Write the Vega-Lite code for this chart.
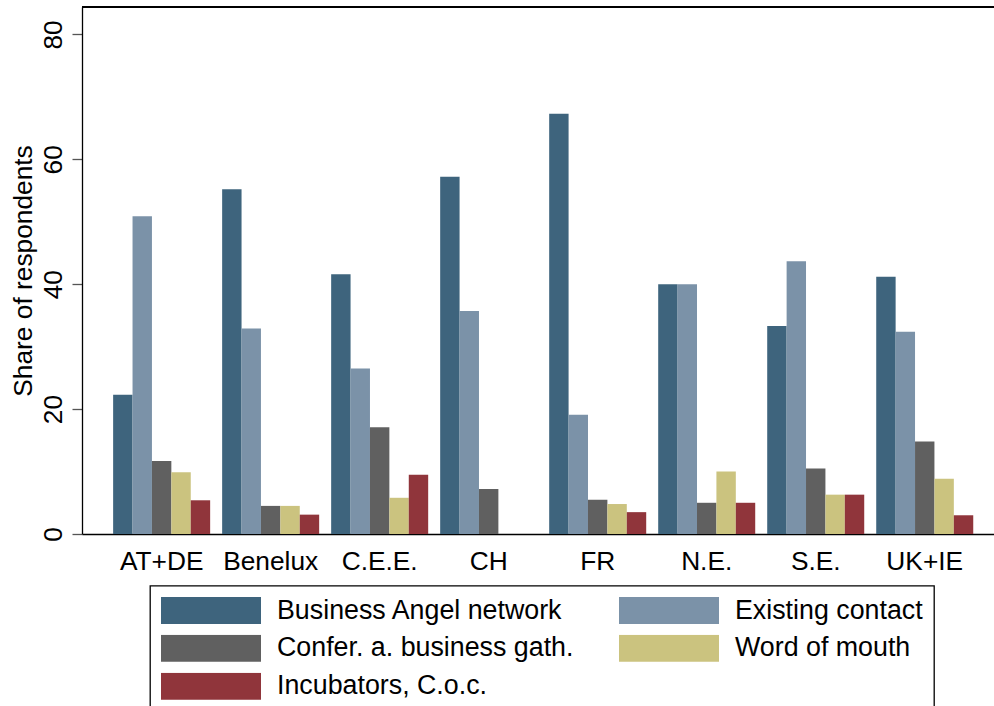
{
  "$schema": "https://vega.github.io/schema/vega-lite/v6.json",
  "autosize": "none",
  "padding": {"left": 82, "top": 7, "right": 0, "bottom": 172},
  "width": 912,
  "height": 527,
  "background": "white",
  "config": {
    "view": {"stroke": null},
    "font": "Liberation Sans",
    "axisX": {
      "grid": false,
      "ticks": false,
      "domainColor": "black",
      "domainWidth": 1.3,
      "labelAngle": 0,
      "labelPadding": 14,
      "labelFontSize": 26.3,
      "labelColor": "black",
      "labelFont": "Liberation Sans",
      "title": null
    },
    "legend": {
      "orient": "none",
      "legendX": 68,
      "legendY": 578.7,
      "title": null,
      "columns": 2,
      "direction": "horizontal",
      "columnPadding": 45,
      "rowPadding": 10,
      "padding": 11,
      "strokeColor": "black",
      "strokeWidth": 1.3,
      "fillColor": "white",
      "symbolType": "M-1,-0.27H1V0.27H-1Z",
      "symbolSize": 10000,
      "symbolStrokeWidth": 0,
      "symbolOpacity": 1,
      "clipHeight": 27,
      "labelFont": "Liberation Sans",
      "labelFontSize": 26.8,
      "labelColor": "black",
      "labelOffset": 16,
      "labelLimit": 500
    }
  },
  "data": {
    "values": [
      {"region": "AT+DE", "source": "Business Angel network", "value": 22.3},
      {"region": "AT+DE", "source": "Existing contact", "value": 50.9},
      {"region": "AT+DE", "source": "Confer. a. business gath.", "value": 11.7},
      {"region": "AT+DE", "source": "Word of mouth", "value": 9.9},
      {"region": "AT+DE", "source": "Incubators, C.o.c.", "value": 5.4},
      {"region": "Benelux", "source": "Business Angel network", "value": 55.2},
      {"region": "Benelux", "source": "Existing contact", "value": 32.9},
      {"region": "Benelux", "source": "Confer. a. business gath.", "value": 4.5},
      {"region": "Benelux", "source": "Word of mouth", "value": 4.5},
      {"region": "Benelux", "source": "Incubators, C.o.c.", "value": 3.1},
      {"region": "C.E.E.", "source": "Business Angel network", "value": 41.6},
      {"region": "C.E.E.", "source": "Existing contact", "value": 26.5},
      {"region": "C.E.E.", "source": "Confer. a. business gath.", "value": 17.1},
      {"region": "C.E.E.", "source": "Word of mouth", "value": 5.8},
      {"region": "C.E.E.", "source": "Incubators, C.o.c.", "value": 9.5},
      {"region": "CH", "source": "Business Angel network", "value": 57.2},
      {"region": "CH", "source": "Existing contact", "value": 35.7},
      {"region": "CH", "source": "Confer. a. business gath.", "value": 7.2},
      {"region": "CH", "source": "Word of mouth", "value": 0},
      {"region": "CH", "source": "Incubators, C.o.c.", "value": 0},
      {"region": "FR", "source": "Business Angel network", "value": 67.3},
      {"region": "FR", "source": "Existing contact", "value": 19.1},
      {"region": "FR", "source": "Confer. a. business gath.", "value": 5.5},
      {"region": "FR", "source": "Word of mouth", "value": 4.8},
      {"region": "FR", "source": "Incubators, C.o.c.", "value": 3.5},
      {"region": "N.E.", "source": "Business Angel network", "value": 40.0},
      {"region": "N.E.", "source": "Existing contact", "value": 40.0},
      {"region": "N.E.", "source": "Confer. a. business gath.", "value": 5.0},
      {"region": "N.E.", "source": "Word of mouth", "value": 10.0},
      {"region": "N.E.", "source": "Incubators, C.o.c.", "value": 5.0},
      {"region": "S.E.", "source": "Business Angel network", "value": 33.3},
      {"region": "S.E.", "source": "Existing contact", "value": 43.7},
      {"region": "S.E.", "source": "Confer. a. business gath.", "value": 10.5},
      {"region": "S.E.", "source": "Word of mouth", "value": 6.3},
      {"region": "S.E.", "source": "Incubators, C.o.c.", "value": 6.3},
      {"region": "UK+IE", "source": "Business Angel network", "value": 41.2},
      {"region": "UK+IE", "source": "Existing contact", "value": 32.4},
      {"region": "UK+IE", "source": "Confer. a. business gath.", "value": 14.8},
      {"region": "UK+IE", "source": "Word of mouth", "value": 8.85},
      {"region": "UK+IE", "source": "Incubators, C.o.c.", "value": 3.0}
    ]
  },
  "layer": [
    {
      "mark": {"type": "bar"},
      "encoding": {
        "x": {
          "field": "region",
          "type": "nominal",
          "sort": null,
          "scale": {"paddingInner": 0.11, "paddingOuter": 0.238, "align": 0.6},
          "axis": {"title": null}
        },
        "xOffset": {
          "field": "source",
          "type": "nominal",
          "sort": ["Business Angel network", "Existing contact", "Confer. a. business gath.", "Word of mouth", "Incubators, C.o.c."],
          "scale": {"paddingInner": 0, "paddingOuter": 0}
        },
        "y": {
          "field": "value",
          "type": "quantitative",
          "title": "Share of respondents",
          "scale": {"domain": [0, 84.4], "nice": false, "zero": true},
          "axis": {
            "values": [0, 20, 40, 60, 80],
            "grid": false,
            "domainColor": "black",
            "domainWidth": 1.3,
            "tickColor": "#555555",
            "tickSize": 10,
            "tickWidth": 1.3,
            "labelAngle": -90,
            "labelAlign": "center",
            "labelBaseline": "alphabetic",
            "labelPadding": 11,
            "labelFontSize": 26.3,
            "labelColor": "black",
            "labelFont": "Liberation Sans",
            "titleFont": "Liberation Sans",
            "titleFontSize": 26.3,
            "titleFontWeight": "normal",
            "titleColor": "black",
            "titleAngle": -90,
            "titleAlign": "center",
            "titleBaseline": "alphabetic",
            "titleX": -51,
            "titleY": 263.5
          }
        },
        "color": {
          "field": "source",
          "type": "nominal",
          "sort": ["Business Angel network", "Existing contact", "Confer. a. business gath.", "Word of mouth", "Incubators, C.o.c."],
          "scale": {
            "domain": ["Business Angel network", "Existing contact", "Confer. a. business gath.", "Word of mouth", "Incubators, C.o.c."],
            "range": ["#3E647D", "#7B92A8", "#606060", "#CBC37F", "#90353B"]
          }
        }
      }
    },
    {
      "mark": {"type": "rule", "color": "black", "strokeWidth": 1.3},
      "encoding": {
        "y": {"datum": 84.4, "title": "Share of respondents"}
      }
    }
  ]
}
